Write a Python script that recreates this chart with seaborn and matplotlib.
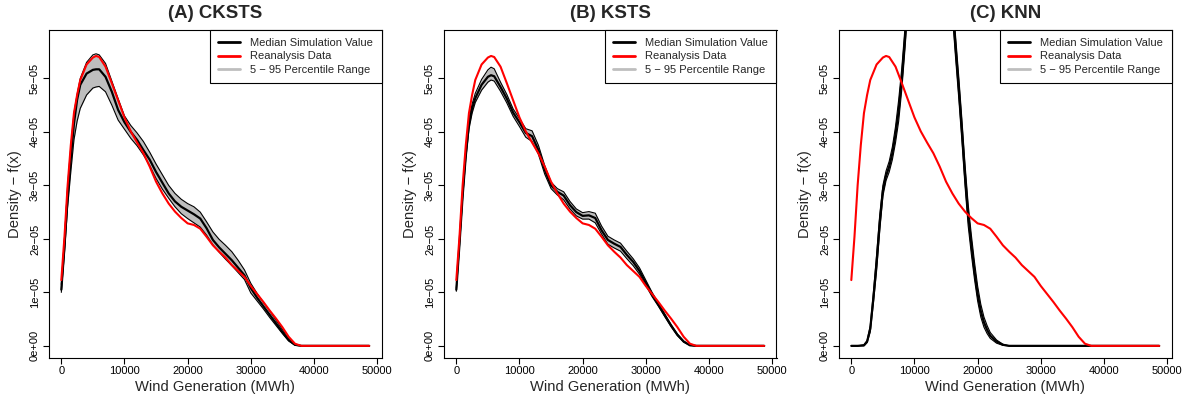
import numpy as np
import pandas as pd
import matplotlib
matplotlib.use("Agg")
import matplotlib.pyplot as plt
from matplotlib.lines import Line2D
import seaborn as sns

# ---------------- data (densities in units of 1e-05) ----------------
DENSITY_UNIT = 1e-5

wind_x = [0, 500, 1000, 1500, 2000, 2500, 3000, 4000, 5000, 5500, 6000,
          7000, 8000, 9000, 10000, 11000, 12000, 13000, 14000, 15000, 16000,
          17000, 18000, 19000, 20000, 21000, 22000, 23000, 24000, 25000, 26000,
          27000, 28000, 29000, 30000, 31000, 32000, 33000, 34000, 35000, 36000,
          37000, 38000, 40000, 44000, 48750]

reanalysis = [1.23, 2.04, 3.00, 3.75, 4.35, 4.69, 4.97, 5.26, 5.39, 5.42, 5.40,
              5.22, 4.91, 4.59, 4.27, 4.01, 3.80, 3.60, 3.35, 3.07, 2.85,
              2.66, 2.51, 2.39, 2.29, 2.26, 2.19, 2.04, 1.88, 1.76, 1.65,
              1.51, 1.40, 1.29, 1.12, 0.97, 0.82, 0.66, 0.51, 0.35, 0.17,
              0.04, 0, 0, 0, 0]

cksts_median = [1.05, 1.85, 2.80, 3.50, 4.15, 4.60, 4.88, 5.09, 5.16, 5.17, 5.17,
                5.03, 4.75, 4.41, 4.18, 4.00, 3.85, 3.66, 3.48, 3.25, 3.05,
                2.85, 2.70, 2.60, 2.53, 2.46, 2.38, 2.20, 1.98, 1.84, 1.72,
                1.60, 1.46, 1.32, 1.08, 0.90, 0.74, 0.58, 0.42, 0.26, 0.11,
                0.02, 0, 0, 0, 0]
cksts_upper = [1.15, 2.00, 3.00, 3.72, 4.35, 4.70, 5.00, 5.30, 5.44, 5.46, 5.44,
               5.28, 4.95, 4.62, 4.30, 4.12, 3.98, 3.82, 3.62, 3.40, 3.20,
               3.00, 2.85, 2.74, 2.66, 2.60, 2.50, 2.32, 2.13, 1.99, 1.88,
               1.76, 1.60, 1.42, 1.17, 0.98, 0.81, 0.65, 0.48, 0.31, 0.14,
               0.03, 0, 0, 0, 0]
cksts_lower = [1.00, 1.75, 2.60, 3.25, 3.85, 4.20, 4.44, 4.69, 4.82, 4.84, 4.85,
               4.75, 4.50, 4.22, 4.05, 3.88, 3.74, 3.57, 3.37, 3.13, 2.93,
               2.76, 2.60, 2.47, 2.38, 2.30, 2.22, 2.07, 1.89, 1.75, 1.62,
               1.50, 1.37, 1.24, 0.99, 0.84, 0.69, 0.53, 0.38, 0.23, 0.09,
               0.01, 0, 0, 0, 0]

ksts_median = [1.05, 1.90, 2.80, 3.55, 4.15, 4.44, 4.63, 4.88, 5.03, 5.06, 5.04,
               4.84, 4.62, 4.36, 4.18, 3.98, 3.92, 3.66, 3.29, 3.00, 2.88,
               2.81, 2.63, 2.50, 2.43, 2.44, 2.39, 2.16, 1.98, 1.91, 1.85,
               1.70, 1.57, 1.40, 1.18, 0.96, 0.77, 0.57, 0.38, 0.21, 0.08,
               0.01, 0, 0, 0, 0]
ksts_upper = [1.08, 1.95, 2.85, 3.60, 4.25, 4.52, 4.72, 4.98, 5.16, 5.21, 5.18,
              4.93, 4.70, 4.43, 4.25, 4.06, 4.02, 3.75, 3.37, 3.06, 2.94,
              2.88, 2.70, 2.56, 2.49, 2.51, 2.48, 2.24, 2.05, 1.98, 1.92,
              1.77, 1.63, 1.46, 1.23, 1.00, 0.80, 0.60, 0.40, 0.22, 0.09,
              0.01, 0, 0, 0, 0]
ksts_lower = [1.02, 1.85, 2.75, 3.50, 4.05, 4.35, 4.55, 4.78, 4.93, 4.97, 4.95,
              4.76, 4.54, 4.29, 4.10, 3.90, 3.82, 3.58, 3.21, 2.94, 2.82,
              2.73, 2.56, 2.43, 2.37, 2.37, 2.30, 2.09, 1.90, 1.83, 1.77,
              1.63, 1.50, 1.34, 1.13, 0.92, 0.74, 0.55, 0.36, 0.19, 0.07,
              0.01, 0, 0, 0, 0]

knn_x = [0, 1000, 2000, 2500, 3000, 3500, 4000, 4500, 5000, 5500, 6000, 6500,
         7000, 7500, 8000, 8500, 9000, 10000, 11000, 12000, 13000, 14000, 15000,
         16000, 16500, 17000, 17500, 18000, 18500, 19000, 19500, 20000, 20500,
         21000, 21500, 22000, 23000, 24000, 25000, 30000, 40000, 48750]
knn_median = [0, 0, 0.01, 0.08, 0.32, 0.90, 1.55, 2.30, 2.90, 3.18, 3.35, 3.60,
              3.95, 4.40, 5.00, 5.75, 6.60, 8.5, 10.2, 11.2, 11.4, 10.6, 8.9,
              6.4, 5.6, 4.85, 4.05, 3.20, 2.45, 1.90, 1.40, 0.97, 0.65,
              0.44, 0.30, 0.19, 0.08, 0.02, 0, 0, 0, 0]
knn_upper = [0, 0, 0.02, 0.10, 0.38, 1.00, 1.70, 2.45, 3.00, 3.27, 3.45, 3.72,
             4.10, 4.60, 5.20, 5.95, 6.80, 8.7, 10.4, 11.4, 11.6, 10.8, 9.1,
             6.6, 5.8, 5.05, 4.25, 3.40, 2.65, 2.08, 1.57, 1.12, 0.78,
             0.54, 0.38, 0.25, 0.11, 0.03, 0, 0, 0, 0]
knn_lower = [0, 0, 0.00, 0.06, 0.26, 0.80, 1.40, 2.15, 2.80, 3.09, 3.25, 3.48,
             3.80, 4.20, 4.80, 5.55, 6.40, 8.3, 10.0, 11.0, 11.2, 10.4, 8.7,
             6.2, 5.4, 4.65, 3.85, 3.00, 2.25, 1.72, 1.25, 0.84, 0.54,
             0.35, 0.23, 0.14, 0.05, 0.01, 0, 0, 0, 0]

panel_titles = ["(A) CKSTS", "(B) KSTS", "(C) KNN"]
x_ticks = [0, 10000, 20000, 30000, 40000, 50000]
x_tick_labels = ["0", "10000", "20000", "30000", "40000", "50000"]
y_ticks = [0, 1e-5, 2e-5, 3e-5, 4e-5, 5e-5]
y_tick_labels = ["0e+00", "1e\u221205", "2e\u221205", "3e\u221205", "4e\u221205", "5e\u221205"]
legend_labels = ["Median Simulation Value", "Reanalysis Data", "5 \u2212 95 Percentile Range"]
x_label = "Wind Generation (MWh)"
y_label = "Density \u2212 f(x)"

# ---------------- style ----------------
sns.set_style("ticks")
plt.rcParams.update({
    "font.family": ["Liberation Sans", "DejaVu Sans"],
    "axes.edgecolor": "black",
    "axes.linewidth": 0.8,
    "xtick.color": "black",
    "ytick.color": "black",
    "xtick.major.size": 4.3,
    "ytick.major.size": 4.3,
    "xtick.major.width": 0.8,
    "ytick.major.width": 0.8,
    "xtick.direction": "out",
    "ytick.direction": "out",
    "axes.unicode_minus": True,
})

RED = "#FF0000"
BAND = "#BEBEBE"

fig = plt.figure(figsize=(11.87, 4.0), dpi=100)
W, H = 1187.0, 400.0
lefts = [49.0, 444.0, 839.0]
ax_w, ax_top, ax_bot = 332.5, 30.0, 358.0

panels = [
    (wind_x, cksts_median, cksts_lower, cksts_upper),
    (wind_x, ksts_median, ksts_lower, ksts_upper),
    (knn_x, knn_median, knn_lower, knn_upper),
]

for i, (px, med, lo, hi) in enumerate(panels):
    ax = fig.add_axes([lefts[i] / W, 1 - ax_bot / H, ax_w / W, (ax_bot - ax_top) / H])
    xs = np.asarray(px, dtype=float)
    lo_y = np.asarray(lo, dtype=float) * DENSITY_UNIT
    hi_y = np.asarray(hi, dtype=float) * DENSITY_UNIT
    med_y = np.asarray(med, dtype=float) * DENSITY_UNIT
    red_y = np.asarray(reanalysis, dtype=float) * DENSITY_UNIT

    ax.fill_between(xs, lo_y, hi_y, color=BAND, linewidth=0, zorder=1)
    sns.lineplot(x=xs, y=lo_y, ax=ax, color="black", linewidth=0.8, zorder=3, legend=False)
    sns.lineplot(x=xs, y=hi_y, ax=ax, color="black", linewidth=0.8, zorder=3, legend=False)
    sns.lineplot(x=xs, y=med_y, ax=ax, color="black", linewidth=1.6, zorder=4, legend=False)
    sns.lineplot(x=np.asarray(wind_x, float), y=red_y, ax=ax, color=RED,
                 linewidth=1.5, zorder=5, legend=False)

    ax.set_xlim(-1950, 50700)
    ax.set_ylim(-2.27e-6, 5.905e-5)
    ax.set_xticks(x_ticks)
    ax.set_xticklabels(x_tick_labels, fontsize=8)
    ax.set_yticks(y_ticks)
    ax.set_yticklabels(y_tick_labels, fontsize=8, rotation=90, va="center")
    ax.tick_params(axis="x", pad=1.5)
    ax.tick_params(axis="y", pad=2.2)
    for s in ax.spines.values():
        s.set_visible(True)
        s.set_color("black")
        s.set_linewidth(0.8)

    ax.set_xlabel(x_label, fontsize=10.6)
    ax.set_ylabel(y_label, fontsize=10.6)
    ax.xaxis.set_label_coords(0.5, (ax_bot - 387) / (ax_bot - ax_top))
    ax.xaxis.label.set_verticalalignment("center")
    ax.yaxis.set_label_coords(-34.0 / ax_w, 0.5)
    ax.yaxis.label.set_verticalalignment("center")

    ax.text(0.5, 1 + (ax_top - 14) / (ax_bot - ax_top), panel_titles[i],
            transform=ax.transAxes, ha="center", va="center",
            fontsize=13.4, fontweight="bold")

    handles = [Line2D([], [], color="black", linewidth=2),
               Line2D([], [], color=RED, linewidth=2),
               Line2D([], [], color=BAND, linewidth=2)]
    leg = ax.legend(handles, legend_labels, loc="upper right",
                    bbox_to_anchor=(1.0, 1.0), borderaxespad=0.0,
                    fontsize=8, frameon=True, fancybox=False, framealpha=1,
                    edgecolor="black", handlelength=2.0, handletextpad=0.9,
                    labelspacing=0.28, borderpad=0.75)
    leg.get_frame().set_linewidth(0.8)
    leg.set_zorder(10)

fig.savefig("out.png", dpi=100)
